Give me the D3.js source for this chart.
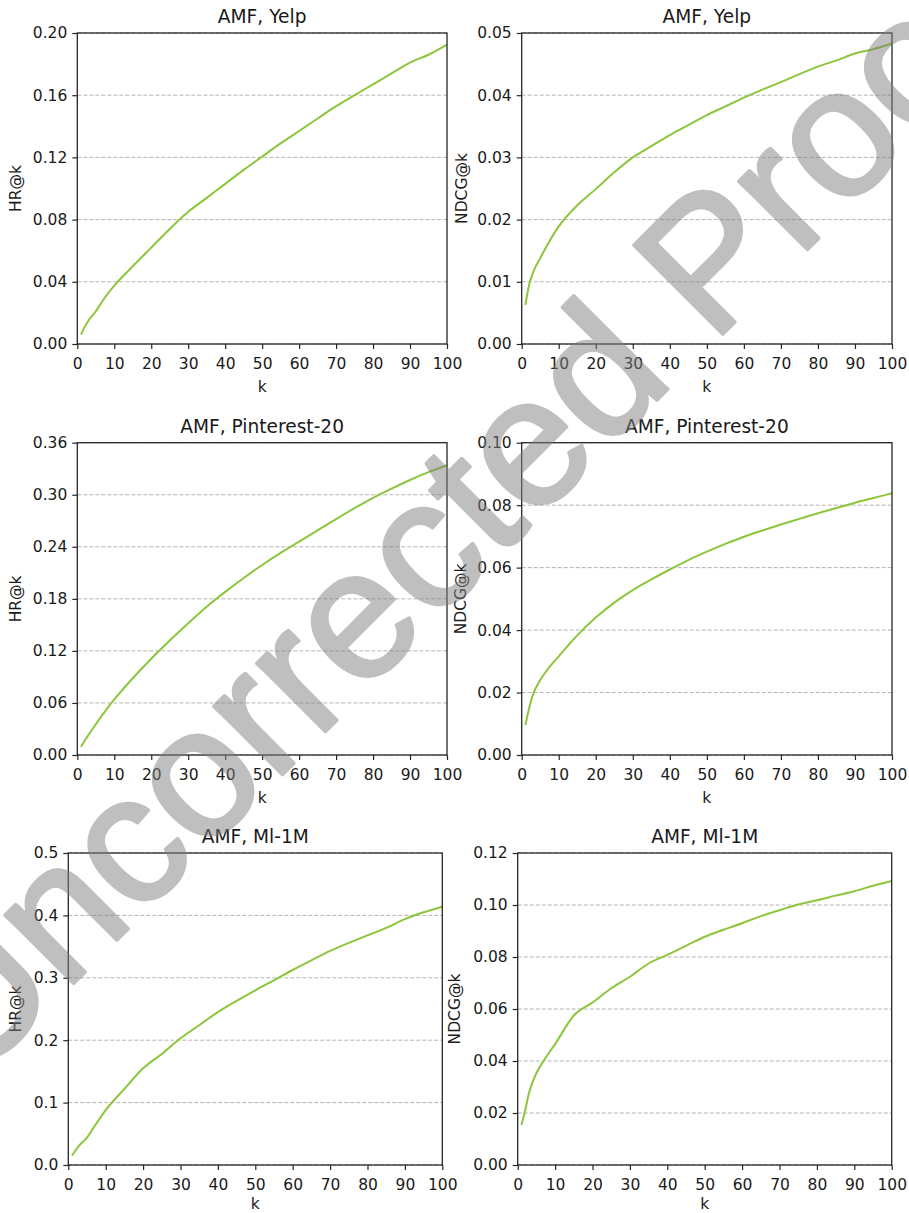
<!DOCTYPE html>
<html>
<head>
<meta charset="utf-8">
<script src="https://cdn.jsdelivr.net/npm/d3@7"></script>
<style>
  body { margin: 0; background: #fff; }
  svg { display: block; font-family: "DejaVu Sans", sans-serif; }
</style>
</head>
<body>
<svg id="fig" width="909" height="1213"></svg>
<script>
// values at these k
const kValues = [1, 2, 3, 5, 7, 10, 15, 20, 25, 30, 35, 40, 45, 50, 55, 60, 65, 70, 75, 80, 85, 90, 95, 100];
const xTicks = d3.range(0, 101, 10);

const hrYelp   = [0.006, 0.011, 0.015, 0.021, 0.0283, 0.0375, 0.050, 0.062, 0.074, 0.085, 0.094, 0.103, 0.112, 0.1205, 0.129, 0.137, 0.145, 0.153, 0.160, 0.167, 0.174, 0.181, 0.186, 0.1925];
const ndcgYelp = [0.0063, 0.0095, 0.0114, 0.0138, 0.0160, 0.0189, 0.0223, 0.0249, 0.0276, 0.0300, 0.0318, 0.0336, 0.0352, 0.0368, 0.0382, 0.0396, 0.0409, 0.0421, 0.0434, 0.0446, 0.0456, 0.0467, 0.0474, 0.0483];
const hrPin    = [0.0096, 0.0165, 0.023, 0.0355, 0.0475, 0.064, 0.0885, 0.111, 0.132, 0.152, 0.171, 0.188, 0.204, 0.219, 0.233, 0.246, 0.259, 0.272, 0.2845, 0.2965, 0.307, 0.317, 0.326, 0.334];
const ndcgPin  = [0.0096, 0.0150, 0.0192, 0.0240, 0.0274, 0.0316, 0.0383, 0.0440, 0.0488, 0.0528, 0.0562, 0.0594, 0.0624, 0.0651, 0.0676, 0.0699, 0.0719, 0.0738, 0.0756, 0.0774, 0.0791, 0.0808, 0.0823, 0.0838];
const hrMl     = [0.015, 0.024, 0.032, 0.044, 0.062, 0.088, 0.122, 0.155, 0.178, 0.203, 0.224, 0.245, 0.263, 0.280, 0.296, 0.3125, 0.328, 0.343, 0.356, 0.368, 0.380, 0.394, 0.405, 0.414];
const ndcgMl   = [0.0154, 0.0210, 0.0276, 0.0353, 0.0402, 0.0465, 0.0575, 0.0625, 0.0680, 0.0724, 0.0775, 0.0808, 0.0843, 0.0878, 0.0905, 0.0930, 0.0957, 0.0980, 0.1002, 0.1018, 0.1036, 0.1053, 0.1074, 0.1092];

const hrYelpTicks   = [0, 0.04, 0.08, 0.12, 0.16, 0.20];
const ndcgYelpTicks = [0, 0.01, 0.02, 0.03, 0.04, 0.05];
const hrPinTicks    = [0, 0.06, 0.12, 0.18, 0.24, 0.30, 0.36];
const ndcgPinTicks  = [0, 0.02, 0.04, 0.06, 0.08, 0.10];
const hrMlTicks     = [0, 0.1, 0.2, 0.3, 0.4, 0.5];
const ndcgMlTicks   = [0, 0.02, 0.04, 0.06, 0.08, 0.10, 0.12];

const panels = [
  { title: "AMF, Yelp", ylabel: "HR@k", values: hrYelp, ticks: hrYelpTicks, fmt: ".2f",
    x0: 77.3, x1: 447, y0: 33, y1: 344, labelX: 16, kGap: 48 },
  { title: "AMF, Yelp", ylabel: "NDCG@k", values: ndcgYelp, ticks: ndcgYelpTicks, fmt: ".2f",
    x0: 521.7, x1: 892, y0: 33, y1: 344, labelX: 461.7, kGap: 48 },
  { title: "AMF, Pinterest-20", ylabel: "HR@k", values: hrPin, ticks: hrPinTicks, fmt: ".2f",
    x0: 77.3, x1: 447, y0: 442.7, y1: 755, labelX: 16, kGap: 48 },
  { title: "AMF, Pinterest-20", ylabel: "NDCG@k", values: ndcgPin, ticks: ndcgPinTicks, fmt: ".2f",
    x0: 521.7, x1: 892, y0: 442.7, y1: 755, labelX: 461, kGap: 48 },
  { title: "AMF, Ml-1M", ylabel: "HR@k", values: hrMl, ticks: hrMlTicks, fmt: ".1f",
    x0: 68.3, x1: 442.3, y0: 853, y1: 1165, labelX: 16, kGap: 44 },
  { title: "AMF, Ml-1M", ylabel: "NDCG@k", values: ndcgMl, ticks: ndcgMlTicks, fmt: ".2f",
    x0: 517.7, x1: 891.7, y0: 853, y1: 1165, labelX: 455, kGap: 44 }
];

const svg = d3.select("#fig");
svg.append("rect").attr("width", 909).attr("height", 1213).attr("fill", "#fff");

panels.forEach(p => {
  const g = svg.append("g");

  const x = d3.scaleLinear().domain([0, 100]).range([p.x0, p.x1]);
  const y = d3.scaleLinear().domain([0, d3.max(p.ticks)]).range([p.y1, p.y0]);

  // dashed horizontal grid
  g.append("g")
    .selectAll("line")
    .data(p.ticks)
    .join("line")
    .attr("x1", p.x0).attr("x2", p.x1)
    .attr("y1", d => y(d)).attr("y2", d => y(d))
    .attr("stroke", "#b4b4b4")
    .attr("stroke-width", 1)
    .attr("stroke-dasharray", "4,2");

  const line = d3.line()
    .x((d, i) => x(kValues[i]))
    .y(d => y(d))
    .curve(d3.curveMonotoneX);

  g.append("path")
    .datum(p.values)
    .attr("d", line)
    .attr("fill", "none")
    .attr("stroke", "#8cc63c")
    .attr("stroke-width", 2);

  // axes
  const xAxis = g.append("g")
    .attr("transform", `translate(0,${p.y1})`)
    .call(d3.axisBottom(x).tickValues(xTicks).tickSize(5).tickPadding(8.5));
  const yAxis = g.append("g")
    .attr("transform", `translate(${p.x0},0)`)
    .call(d3.axisLeft(y).tickValues(p.ticks).tickFormat(d3.format(p.fmt)).tickSize(5).tickPadding(5));

  [xAxis, yAxis].forEach(a => {
    a.select(".domain").remove();
    a.selectAll(".tick line").attr("stroke", "#262626").attr("stroke-width", 1.2);
    a.selectAll(".tick text")
      .attr("fill", "#1a1a1a")
      .style("font-family", "DejaVu Sans")
      .style("font-size", "15.5px");
  });

  // frame
  g.append("rect")
    .attr("x", p.x0).attr("y", p.y0)
    .attr("width", p.x1 - p.x0).attr("height", p.y1 - p.y0)
    .attr("fill", "none")
    .attr("stroke", "#262626")
    .attr("stroke-width", 1.3);

  g.append("text")
    .attr("x", (p.x0 + p.x1) / 2)
    .attr("y", p.y0 - 10)
    .attr("text-anchor", "middle")
    .attr("fill", "#1a1a1a")
    .style("font-size", "18.6px")
    .text(p.title);

  g.append("text")
    .attr("x", (p.x0 + p.x1) / 2)
    .attr("y", p.y1 + p.kGap)
    .attr("text-anchor", "middle")
    .attr("fill", "#1a1a1a")
    .style("font-size", "15.5px")
    .text("k");

  g.append("text")
    .attr("transform", `translate(${p.labelX},${(p.y0 + p.y1) / 2}) rotate(-90)`)
    .attr("text-anchor", "middle")
    .attr("dy", "0.35em")
    .attr("fill", "#1a1a1a")
    .style("font-size", "15.5px")
    .text(p.ylabel);
});

// watermark laid over the figure (group opacity so fill and stroke blend once)
svg.append("text")
  .attr("transform", "translate(-28.6,1085.6) rotate(-45)")
  .attr("fill", "#808080")
  .attr("stroke", "#808080")
  .attr("stroke-width", 3.5)
  .attr("stroke-linejoin", "round")
  .attr("opacity", 0.5)
  .style("font-family", "Liberation Sans")
  .style("font-size", "183px")
  .text("Uncorrected Proof");
</script>
</body>
</html>
